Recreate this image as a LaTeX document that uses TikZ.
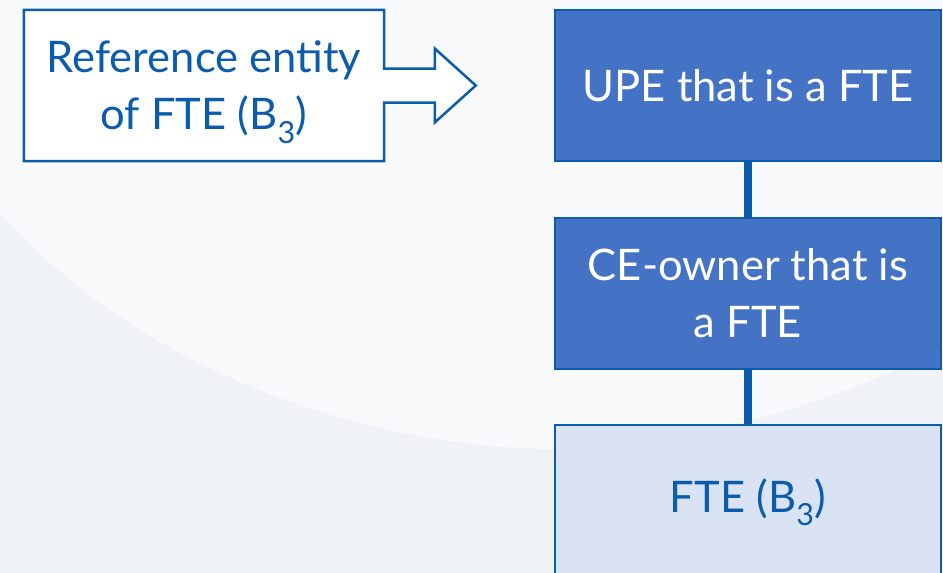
\documentclass[tikz,border=0pt]{standalone}
\usepackage{fontspec}
\setmainfont{Lato}
\usetikzlibrary{backgrounds,calc}
\definecolor{bgA}{HTML}{F8F9FB}
\definecolor{bgB}{HTML}{EFF2F7}
\definecolor{edge}{HTML}{0B5CAD}
\definecolor{dark}{HTML}{4472C4}
\definecolor{light}{HTML}{DAE3F3}
\begin{document}
\begin{tikzpicture}[x=1pt,y=-1pt,
  txt/.style={font=\fontsize{43.5}{57}\selectfont, align=center, inner sep=0pt},
  darkbox/.style={txt, draw=edge, line width=2.5pt, fill=dark, text=white, minimum width=386pt, minimum height=151pt},
  lightbox/.style={txt, draw=edge, line width=2.5pt, fill=light, text=edge, minimum width=386pt, minimum height=154pt},
  conn/.style={draw=edge, line width=7.5pt}]
\useasboundingbox (0,0) rectangle (943,573);
\clip (0,0) rectangle (943,573);
% left reference node
\node[txt, text=edge, minimum width=360pt, minimum height=151pt, text depth=0pt] (ref) at (204,85.5) {Reference entity\\of FTE (B\textsubscript{3})};
% right column
\node[darkbox] (upe) at (748,85.5) {UPE that is a FTE};
\node[darkbox] (ce) at (748,293.5) {CE-owner that is\\a FTE};
\node[lightbox] (fte) at (748,502) {FTE (B\textsubscript{3})};
\draw[conn] (upe.south) -- (ce.north);
\draw[conn] (ce.south) -- (fte.north);
\begin{scope}[on background layer]
\fill[bgB] (0,0) rectangle (943,573);
\fill[bgA] (0,0) -- (0,213) .. controls (140,370) and (360,445) .. (545,449)
  .. controls (690,449) and (840,400) .. (943,348) -- (943,0) -- cycle;
% outline of reference box merged with block arrow
\coordinate (tip) at ($(upe.west)+(-78,0)$);
\coordinate (hb) at ($(tip)+(-41,0)$);
\draw[edge, line width=2.5pt, fill=white, line join=miter]
  (ref.north west) -- (ref.north east) -- ($(ref.east)+(0,-17)$) -- ($(hb)+(0,-17)$) -- ($(hb)+(0,-37)$)
  -- (tip) -- ($(hb)+(0,37)$) -- ($(hb)+(0,17)$) -- ($(ref.east)+(0,17)$)
  -- (ref.south east) -- (ref.south west) -- cycle;
\end{scope}
\end{tikzpicture}
\end{document}
